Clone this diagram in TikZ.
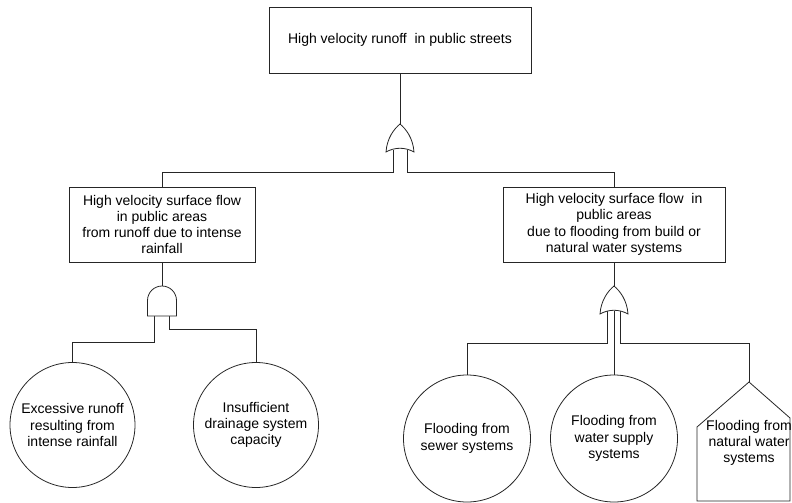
\documentclass[tikz,border=0pt]{standalone}
\usepackage{fontspec}
\setmainfont{Liberation Sans}
\begin{document}
\begin{tikzpicture}[x=1pt, y=-1pt, line width=0.8pt, draw=black!85,
  every node/.style={font=\fontsize{14}{16.3}\selectfont, align=center, inner sep=0pt},
  eventbox/.style={draw, rectangle},
  basic/.style={draw, circle, minimum size=125pt},
  orgate/.pic={
    \draw[fill=white] (-14,28) .. controls (-13,14) and (-6,5) .. (0,0)
      .. controls (6,5) and (13,14) .. (14,28)
      .. controls (5,23) and (-5,23) .. cycle;
  },
  andgate/.pic={
    \draw[fill=white] (-14.5,30) -- (-14.5,14.5)
      arc[start angle=180, end angle=0, radius=14.5pt] -- (14.5,30) -- cycle;
  }]
\useasboundingbox (0,0) rectangle (792,503);

% events
\node[eventbox, minimum width=262pt, minimum height=66pt] (top) at (400,40)
  {High velocity runoff\ \ in public streets};
\node[eventbox, minimum width=186pt, minimum height=75pt] (b1) at (162,224.5)
  {High velocity surface flow\\in public areas\\from runoff due to intense\\rainfall};
\node[eventbox, minimum width=222pt, minimum height=75pt] (b2) at (614,224.5)
  {High velocity surface flow\ \ in\\public areas\\due to flooding from build or\\natural water systems};

% basic events
\node[basic] (c1) at (72.5,425) {Excessive runoff\\resulting from\\intense rainfall};
\node[basic] (c2) at (256,425) {Insufficient\\drainage system\\capacity};
\node[basic, minimum size=127pt] (c3) at (467,438.5) {Flooding from\\sewer systems};
\node[basic, minimum size=127pt] (c4) at (614,438.5) {Flooding from\\water supply\\systems};

% house event
\coordinate (h) at (749,382);
\draw (697,501) -- (697,427) -- (h) -- (790,418) -- (790,501) -- cycle;
\node (ht) at (749,443) {Flooding from\\natural water\\systems};

% gate anchors
\coordinate (g1) at (400,124);
\coordinate (g1L) at (393,150);
\coordinate (g1R) at (407,150);
\coordinate (g2) at (614,286);
\coordinate (g2L) at (607.5,311);
\coordinate (g2M) at (614,311);
\coordinate (g2R) at (620.5,311);
\coordinate (g3) at (162,286);
\coordinate (g3L) at (154.5,316);
\coordinate (g3R) at (169.5,316);

% connectors
\draw (top.south) -- (g1);
\draw (g1L) -- ++(0,22) -| (b1.north);
\draw (g1R) -- ++(0,22) -| (b2.north);
\draw (b1.south) -- (g3);
\draw (g3L) -- ++(0,26) -| (c1.north);
\draw (g3R) -- ++(0,13) -| (c2.north);
\draw (b2.south) -- (g2);
\draw (g2L) -- ++(0,32) -| (c3.north);
\draw (g2M) -- (c4.north);
\draw (g2R) -- ++(0,32) -| (h);

% gates
\pic at (g1) {orgate};
\pic at (g2) {orgate};
\pic at (g3) {andgate};
\end{tikzpicture}
\end{document}
